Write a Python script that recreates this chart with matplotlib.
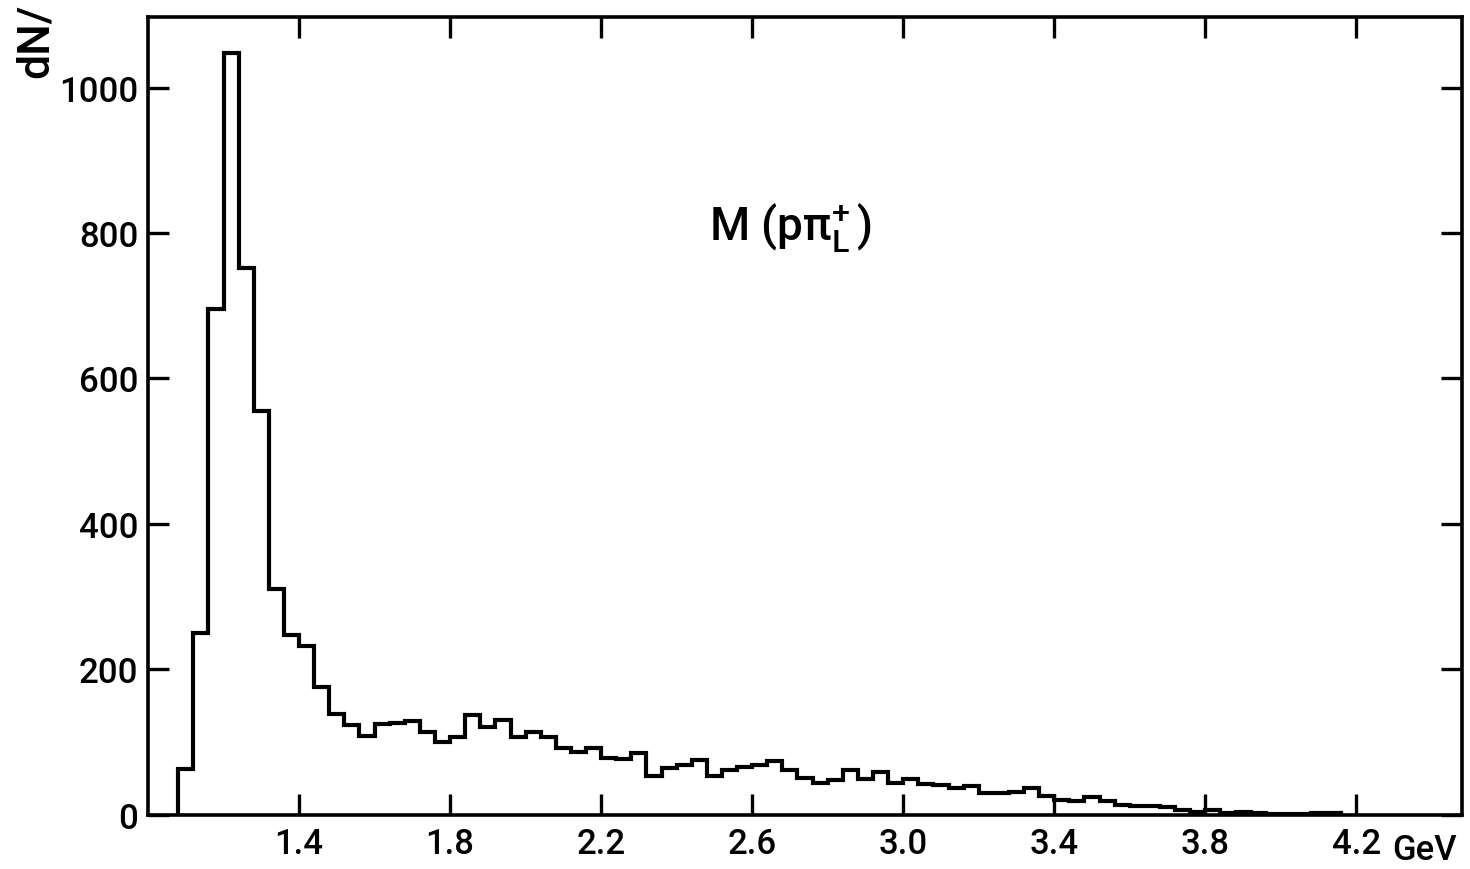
import matplotlib

matplotlib.use("Agg")
import matplotlib.pyplot as plt
import numpy as np

plt.rcParams["font.family"] = ["Roboto", "DejaVu Sans"]
plt.rcParams["font.weight"] = "medium"
plt.rcParams["mathtext.fontset"] = "custom"
plt.rcParams["mathtext.rm"] = "Roboto:medium"
plt.rcParams["mathtext.it"] = "Roboto:italic"
plt.rcParams["mathtext.bf"] = "Roboto:bold"

# M(p pi+_L) invariant mass, 40 MeV bins starting at threshold
bin_start = 1.08
bin_width = 0.04
counts = [
    63, 250, 695, 1048, 752, 555, 310, 247, 232, 176,
    139, 123, 108, 124, 126, 129, 114, 100, 107, 137,
    121, 130, 107, 114, 107, 91, 86, 92, 78, 77,
    84, 53, 64, 68, 75, 53, 61, 65, 68, 73,
    61, 50, 44, 48, 61, 49, 59, 43, 49, 42,
    41, 36, 39, 29, 29, 31, 37, 25, 20, 19,
    24, 18, 13, 12, 12, 11, 6, 3, 6, 2,
    3, 2, 1, 1, 1, 2, 2,
]
x_ticks = [1.4, 1.8, 2.2, 2.6, 3.0, 3.4, 3.8, 4.2]
x_tick_labels = ["1.4", "1.8", "2.2", "2.6", "3.0", "3.4", "3.8", "4.2"]
y_ticks = [0, 200, 400, 600, 800, 1000]
y_tick_labels = ["0", "200", "400", "600", "800", "1000"]

edges = np.round(bin_start + bin_width * np.arange(len(counts) + 1), 3)

fig = plt.figure(figsize=(14.7, 8.7), dpi=100)
ax = fig.add_axes([0.1007, 0.0626, 0.8939, 0.9164])

ax.stairs(counts, edges, baseline=0, color="black", linewidth=3.0)

ax.set_xlim(1.0, 4.48)
ax.set_ylim(0, 1097)
ax.set_xticks(x_ticks)
ax.set_xticklabels(x_tick_labels)
ax.set_yticks(y_ticks)
ax.set_yticklabels(y_tick_labels)

for spine in ax.spines.values():
    spine.set_linewidth(2.6)
ax.tick_params(direction="in", length=15, width=2.4, labelsize=25,
               top=True, right=True, pad=7)
ax.tick_params(axis="x", pad=9)

ax.text(0.489, 0.738, r"M (p$\mathrm{\pi}^{+}_{\mathrm{L}}\,$)",
        transform=ax.transAxes, fontsize=33, ha="center", va="center")

fig.text(1392 / 1470, 0.003, "GeV", fontsize=25, ha="left", va="bottom")
fig.text(36 / 1470, 0.91, "dN/", fontsize=32, rotation=90,
         ha="center", va="bottom")

fig.savefig("out.png", dpi=100)
